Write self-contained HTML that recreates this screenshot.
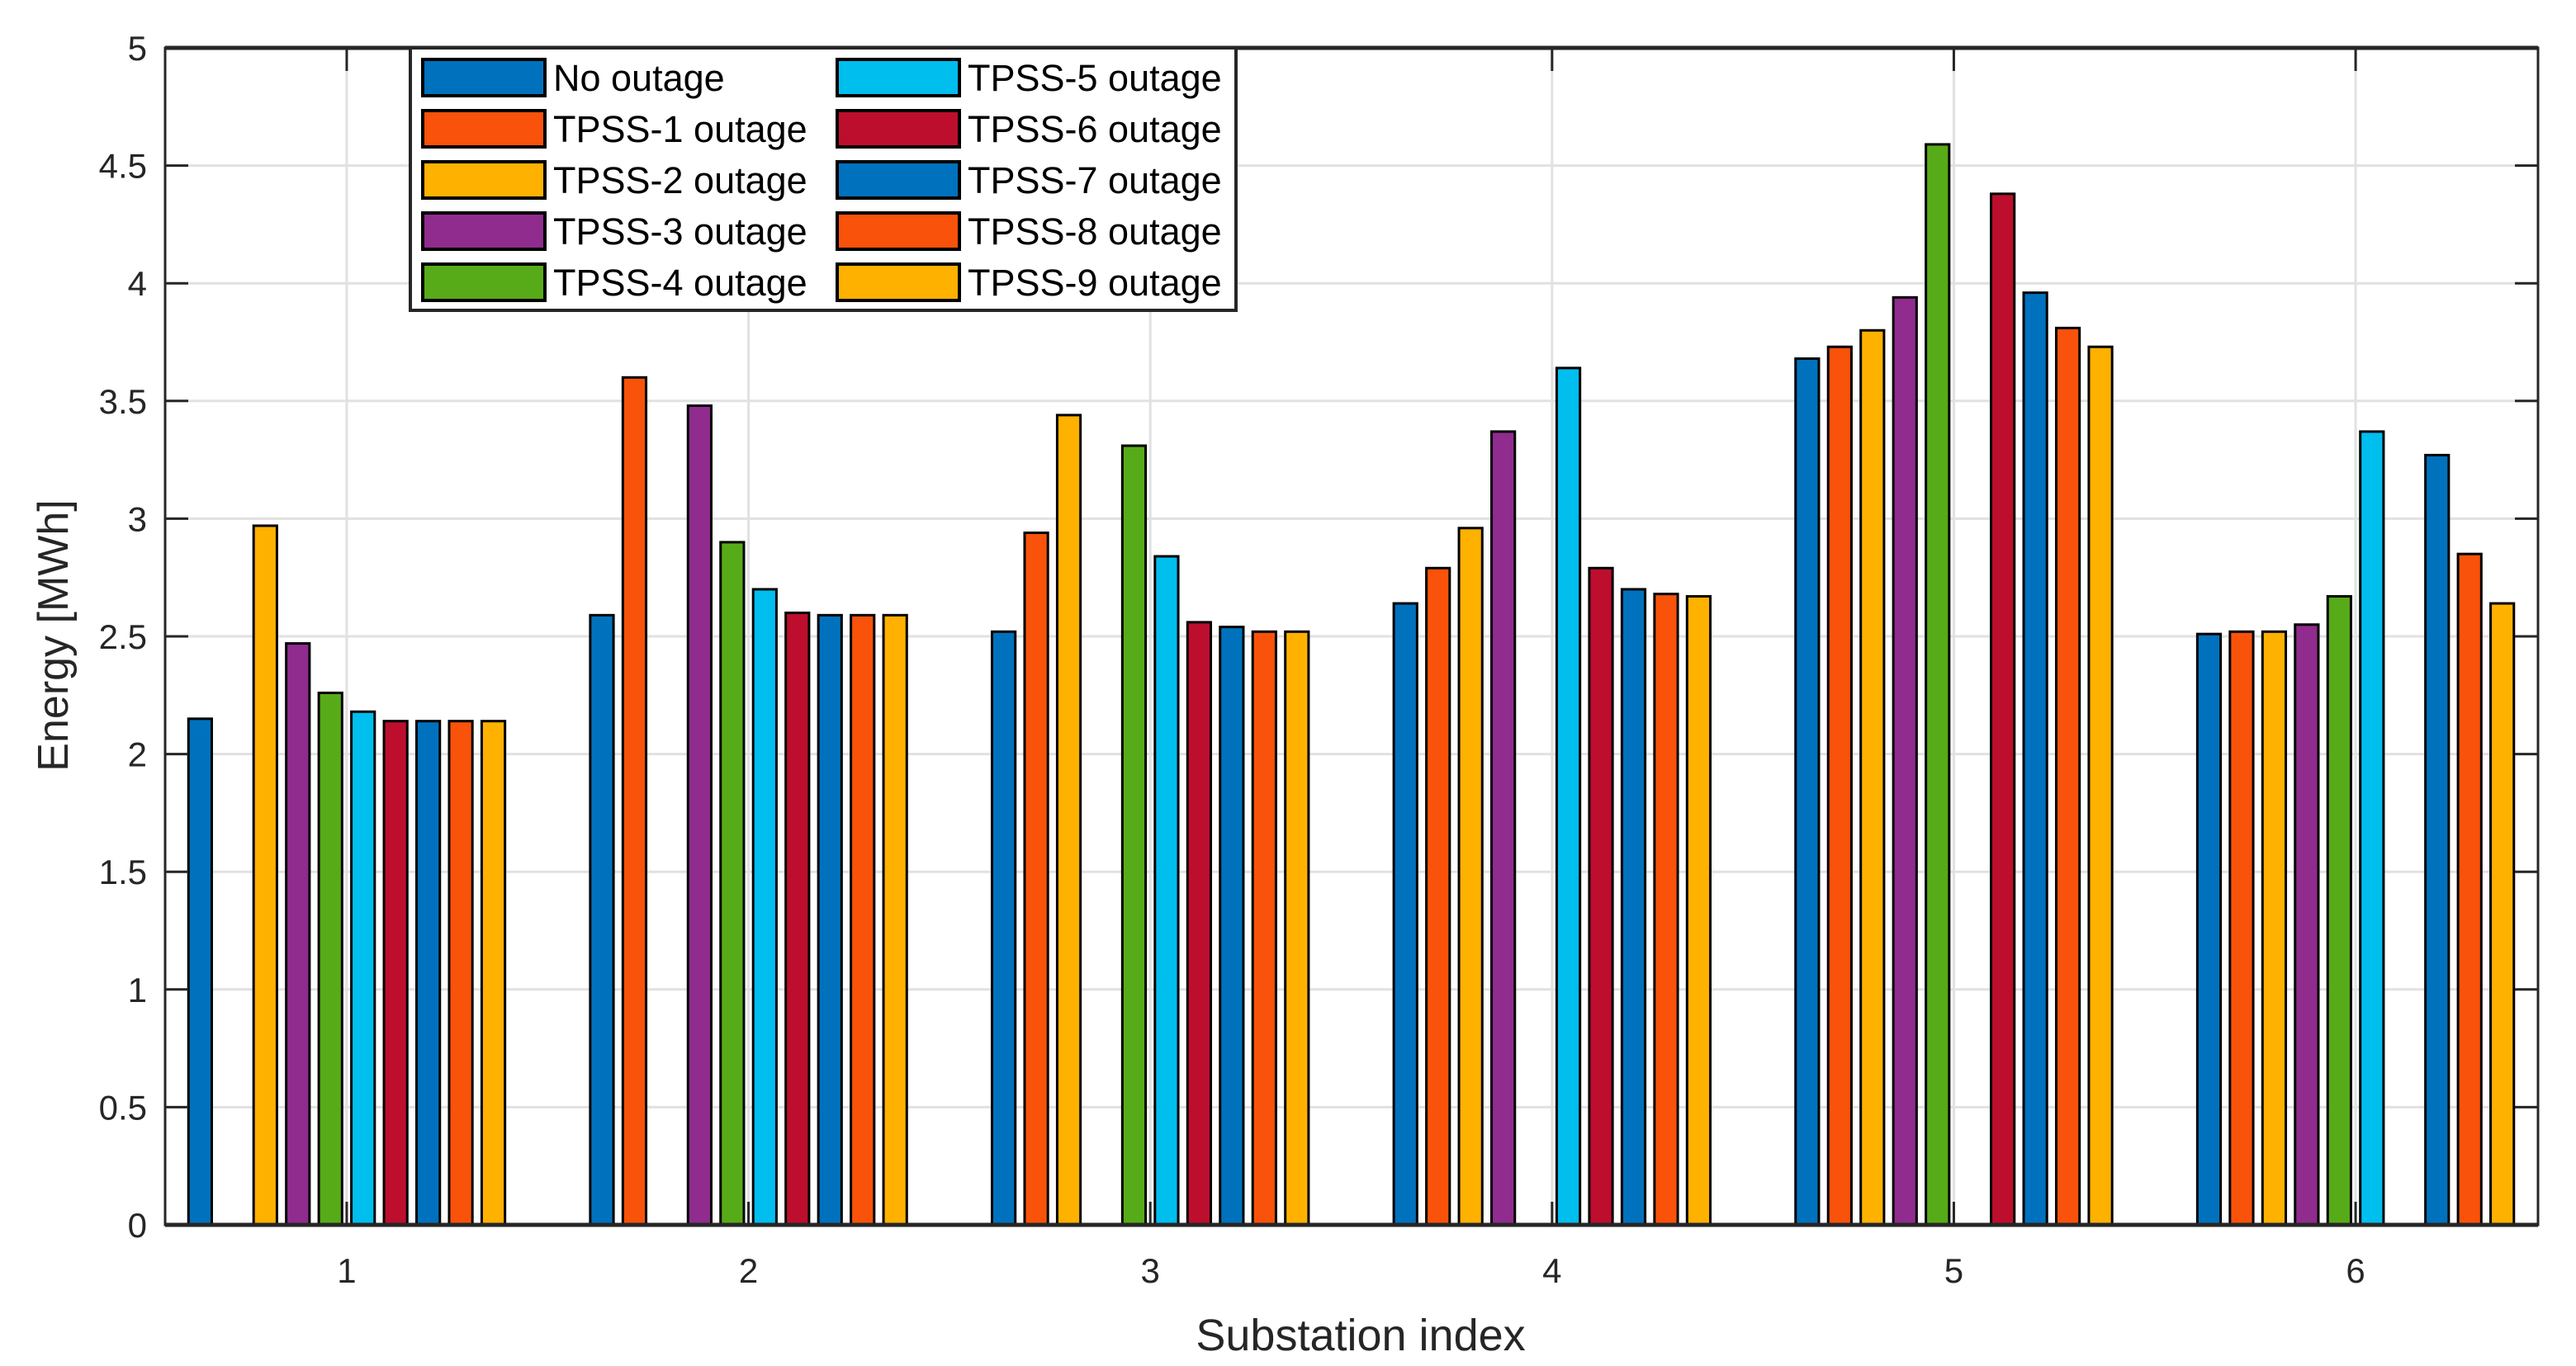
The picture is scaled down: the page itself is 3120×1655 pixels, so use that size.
<!DOCTYPE html>
<html><head><meta charset="utf-8"><style>
html,body{margin:0;padding:0;background:#fff;}
svg{display:block;font-family:"Liberation Sans",Arial,sans-serif;}
</style></head><body>
<svg id="chart" width="3120" height="1655" viewBox="0 0 3120 1655" xmlns="http://www.w3.org/2000/svg">
<rect width="3120" height="1655" fill="#fff"/>
<g id="grid"></g>
<g id="bars"></g>
<g id="axes"></g>
<g id="legend"></g>
<text x="1648" y="1636" font-size="54" fill="#262626" text-anchor="middle">Substation index</text>
<text transform="translate(82,770) rotate(-90)" font-size="52" fill="#262626" text-anchor="middle">Energy [MWh]</text>
</svg>
<script>
const categories = [1, 2, 3, 4, 5, 6];
const seriesNames = ["No outage","TPSS-1 outage","TPSS-2 outage","TPSS-3 outage","TPSS-4 outage","TPSS-5 outage","TPSS-6 outage","TPSS-7 outage","TPSS-8 outage","TPSS-9 outage"];
const seriesColors = ["#0072BD","#F9520A","#FFB100","#8F2C8E","#57AB18","#00BEEE","#BD0E2E","#0072BD","#F9520A","#FFB100"];
const noOutage = [2.15, 2.59, 2.52, 2.64, 3.68, 2.51];
const tpss1 = [0, 3.60, 2.94, 2.79, 3.73, 2.52];
const tpss2 = [2.97, 0, 3.44, 2.96, 3.80, 2.52];
const tpss3 = [2.47, 3.48, 0, 3.37, 3.94, 2.55];
const tpss4 = [2.26, 2.90, 3.31, 0, 4.59, 2.67];
const tpss5 = [2.18, 2.70, 2.84, 3.64, 0, 3.37];
const tpss6 = [2.14, 2.60, 2.56, 2.79, 4.38, 0];
const tpss7 = [2.14, 2.59, 2.54, 2.70, 3.96, 3.27];
const tpss8 = [2.14, 2.59, 2.52, 2.68, 3.81, 2.85];
const tpss9 = [2.14, 2.59, 2.52, 2.67, 3.73, 2.64];
const yTicks = [0, 0.5, 1, 1.5, 2, 2.5, 3, 3.5, 4, 4.5, 5];
const yTickLabels = ["0","0.5","1","1.5","2","2.5","3","3.5","4","4.5","5"];

const series = [noOutage,tpss1,tpss2,tpss3,tpss4,tpss5,tpss6,tpss7,tpss8,tpss9];
const NS = "http://www.w3.org/2000/svg";
const L = 200, R = 3074, T = 58, B = 1484;
const xMin = 0.548, xMax = 6.454, yMin = 0, yMax = 5;
function xs(v){ return L + (v - xMin) / (xMax - xMin) * (R - L); }
function ys(v){ return B - (v - yMin) / (yMax - yMin) * (B - T); }
function mk(tag, attrs, parent){ const e = document.createElementNS(NS, tag); for (const k in attrs) e.setAttribute(k, attrs[k]); parent.appendChild(e); return e; }

const grid = document.getElementById('grid');
yTicks.forEach(function(t, i){
  const l = mk('line', {x1:L, x2:R, y1:ys(t), y2:ys(t), stroke:'#e1e1e1', 'stroke-width':3}, grid);
  
  
});
categories.forEach(function(c){
  const l = mk('line', {x1:xs(c), x2:xs(c), y1:T, y2:B, stroke:'#e1e1e1', 'stroke-width':3}, grid);
  
  
});

const bars = document.getElementById('bars');
const pitch = 0.0811, bw = 0.058;
series.forEach(function(vals, s){
  vals.forEach(function(v, ci){
    if (v <= 0) return;
    const cx = categories[ci] + (s - 4.5) * pitch;
    const x0 = xs(cx - bw/2), x1 = xs(cx + bw/2);
    const r = mk('rect', {x:x0, y:ys(v), width:x1-x0, height:ys(0)-ys(v), fill:seriesColors[s], stroke:'#000', 'stroke-width':3}, bars);
    
    
  });
});

const axes = document.getElementById('axes');
mk('rect', {x:L, y:T, width:R-L, height:B-T, fill:'none', stroke:'#262626', 'stroke-width':3}, axes);
mk('line', {x1:L, x2:R, y1:B, y2:B, stroke:'#262626', 'stroke-width':5}, axes);
mk('line', {x1:L, x2:R, y1:T, y2:T, stroke:'#262626', 'stroke-width':5}, axes);
yTicks.forEach(function(t, i){
  mk('line', {x1:L, x2:L+28, y1:ys(t), y2:ys(t), stroke:'#262626', 'stroke-width':3}, axes);
  mk('line', {x1:R, x2:R-28, y1:ys(t), y2:ys(t), stroke:'#262626', 'stroke-width':3}, axes);
  const tx = mk('text', {x:L-22, y:ys(t)+15, 'font-size':42, fill:'#262626', 'text-anchor':'end'}, axes);
  tx.textContent = yTickLabels[i];
  
  
});
categories.forEach(function(c){
  mk('line', {x1:xs(c), x2:xs(c), y1:B, y2:B-28, stroke:'#262626', 'stroke-width':3}, axes);
  mk('line', {x1:xs(c), x2:xs(c), y1:T, y2:T+28, stroke:'#262626', 'stroke-width':3}, axes);
  const tx = mk('text', {x:xs(c), y:B+70, 'font-size':42, fill:'#262626', 'text-anchor':'middle'}, axes);
  tx.textContent = String(c);
  
  
});

const leg = document.getElementById('legend');
mk('rect', {x:497, y:58, width:1000, height:318, fill:'#fff', stroke:'#262626', 'stroke-width':4}, leg);
seriesNames.forEach(function(n, i){
  const col = Math.floor(i / 5), row = i % 5;
  const sx = col ? 1014 : 512, ty = 94 + row * 62;
  const g = mk('g', {}, leg);
  
  
  mk('rect', {x:sx, y:ty-22, width:148, height:44, fill:seriesColors[i], stroke:'#000', 'stroke-width':4}, g);
  const t = mk('text', {x:sx+158, y:ty+16, 'font-size':45, fill:'#000'}, g);
  t.textContent = n;
});
</script>
</body></html>
